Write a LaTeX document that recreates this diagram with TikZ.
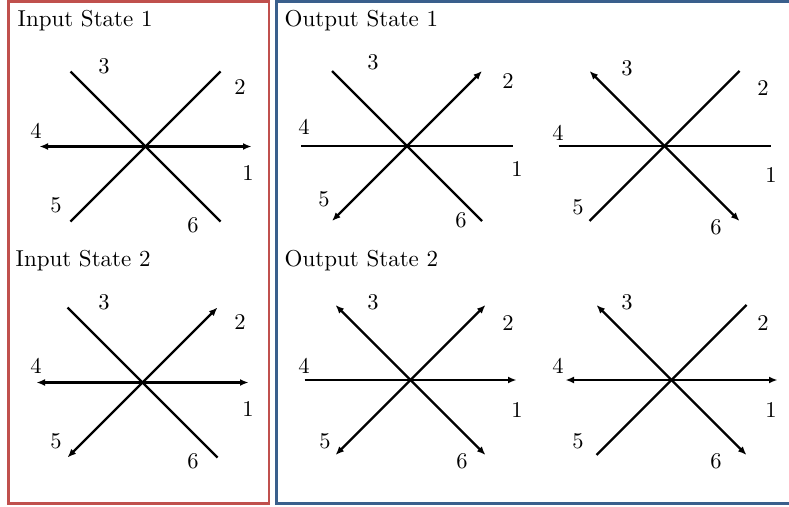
\documentclass[tikz,border=0pt]{standalone}
\usepackage{fontspec}
\setmainfont{lmroman10-regular}[Extension=.otf]
\usetikzlibrary{arrows.meta}
\definecolor{boxred}{RGB}{192,80,77}
\definecolor{boxblue}{RGB}{58,95,140}
\tikzset{
  spoke/.style={line width=2.2pt, line cap=butt},
  lab/.style={inner sep=0pt, font=\fontsize{22.5}{26}\selectfont},
  title/.style={inner sep=0pt, anchor=base west, font=\fontsize{23}{27}\selectfont},
  frame/.style={line width=2.2pt},
  >={Latex[length=8.5pt,width=7pt]}
}
\newcommand\defjunction[3]{%
  \coordinate (#1c) at (#2,#3);
  \coordinate (#1e1) at ([shift={(106,0)}]#1c);
  \coordinate (#1e4) at ([shift={(-106,0)}]#1c);
  \coordinate (#1e2) at ([shift={(75,-75)}]#1c);
  \coordinate (#1e3) at ([shift={(-75,-75)}]#1c);
  \coordinate (#1e5) at ([shift={(-75,75)}]#1c);
  \coordinate (#1e6) at ([shift={(75,75)}]#1c);
}
\newcommand\junctionlabels[7]{% name, then positions of 1..6 given as (x,y)
  \node[lab] (#1l1) at #2 {1};
  \node[lab] (#1l2) at #3 {2};
  \node[lab] (#1l3) at #4 {3};
  \node[lab] (#1l4) at #5 {4};
  \node[lab] (#1l5) at #6 {5};
  \node[lab] (#1l6) at #7 {6};
}
\begin{document}
\begin{tikzpicture}[x=1pt,y=-1pt]
\useasboundingbox (0,0) rectangle (789,506);
\clip (0,0) rectangle (789,506);
% frames
\draw[frame, boxred] (8.5,1.5) rectangle (268.8,503.5);
\draw[frame, boxblue] (276.5,1.5) rectangle (800,503.5);
% titles
\node[title] (t1) at (17.5,26) {Input State 1};
\node[title] (t2) at (15.5,266.5) {Input State 2};
\node[title] (t3) at (284.5,26) {Output State 1};
\node[title] (t4) at (284.5,266.5) {Output State 2};
% junctions
\defjunction{A}{145.5}{146.5}
\defjunction{B}{407}{146}
\defjunction{C}{664.5}{146}
\defjunction{D}{142.5}{382.5}
\defjunction{E}{410.5}{380}
\defjunction{F}{671.5}{380}
% Input State 1
\draw[spoke] (Ae3) -- (Ae6);
\draw[spoke] (Ae5) -- (Ae2);
\draw[spoke,<->] (Ae4) -- (Ae1);
\junctionlabels{A}{(248,173)}{(240,87)}{(104,66)}{(36,131)}{(56,205)}{(193,225)}
% Output State 1, left
\draw[spoke] (Be3) -- (Be6);
\draw[spoke,<->] (Be5) -- (Be2);
\draw[spoke] (Be4) -- (Be1);
\junctionlabels{B}{(517,169)}{(508,81)}{(373,62)}{(304,127)}{(324,199)}{(461,220)}
% Output State 1, right
\draw[spoke,<->] (Ce3) -- (Ce6);
\draw[spoke] (Ce5) -- (Ce2);
\draw[spoke] (Ce4) -- (Ce1);
\junctionlabels{C}{(771,175)}{(763,88)}{(627,68)}{(558,133)}{(578,207)}{(716,227)}
% Input State 2
\draw[spoke] (De3) -- (De6);
\draw[spoke,<->] (De5) -- (De2);
\draw[spoke,<->] (De4) -- (De1);
\junctionlabels{D}{(248,409)}{(240,322)}{(104,302)}{(36,366)}{(56,441)}{(193,461)}
% Output State 2, left
\draw[spoke,<->] (Ee3) -- (Ee6);
\draw[spoke,<->] (Ee5) -- (Ee2);
\draw[spoke,->] (Ee4) -- (Ee1);
\junctionlabels{E}{(517,410)}{(508,323)}{(373,302)}{(304,366)}{(325,441)}{(462,461)}
% Output State 2, right
\draw[spoke,<->] (Fe3) -- (Fe6);
\draw[spoke] (Fe5) -- (Fe2);
\draw[spoke,<->] (Fe4) -- (Fe1);
\junctionlabels{F}{(771,410)}{(763,323)}{(627,302)}{(558,366)}{(578,441)}{(716,461)}
\end{tikzpicture}
\end{document}
